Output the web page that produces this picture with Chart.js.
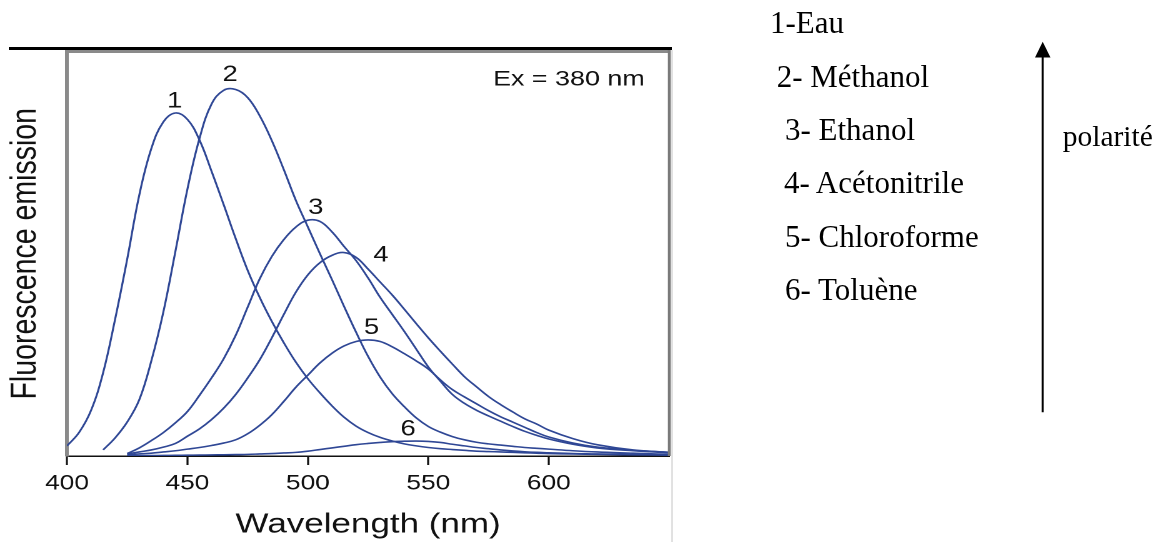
<!DOCTYPE html>
<html><head><meta charset="utf-8">
<script src="https://cdn.jsdelivr.net/npm/chart.js@4.4.1/dist/chart.umd.min.js"></script>
<style>
html,body{margin:0;padding:0;background:#fff;width:1162px;height:542px;overflow:hidden;}
#wrap{position:absolute;left:0;top:0;width:540px;height:542px;transform:scaleX(1.25);transform-origin:0 0;}
#overlay{position:absolute;left:0;top:0;pointer-events:none;}
</style></head><body>
<div id="wrap"><canvas id="c"></canvas></div>
<svg id="overlay" width="1162" height="542" xmlns="http://www.w3.org/2000/svg"></svg>
<script>
// ---- data ----
const wavelengths = [400,405,410,415,420,425,430,435,440,445,450,455,460,465,470,475,480,485,490,495,500,505,510,515,520,525,530,535,540,545,550,555,560,565,570,575,580,585,590,595,600,610,620,635,650];
const eau = [2.5,5.8,11.3,20.6,33.9,48.7,64.5,76.0,82.6,84.8,83.2,78.1,70.4,62.2,53.8,45.9,39.2,33.3,28.0,23.2,19.1,15.6,12.4,9.6,7.4,5.8,4.6,3.7,3.0,2.5,2.1,1.8,1.6,1.4,1.2,1.1,1.0,0.9,0.8,0.7,0.6,0.5,0.4,0.3,0.2];
const methanol = [null,null,null,1.5,4.5,8.4,13.9,23.5,35.6,50.6,66.0,78.5,87.0,90.4,90.6,88.6,84.1,78.0,70.8,63.2,56.6,50.0,43.6,37.0,30.6,24.6,19.5,15.4,12.2,9.4,7.3,5.9,4.8,4.0,3.4,3.0,2.7,2.4,2.1,1.9,1.7,1.3,1.0,0.7,0.4];
const ethanol = [null,null,null,null,null,0.6,2.0,3.8,5.8,8.2,11.0,15.0,19.3,24.0,29.8,36.8,43.8,49.3,53.5,56.6,58.3,58.0,55.4,51.8,48.3,44.0,39.2,35.0,30.8,26.4,22.0,18.5,15.2,13.0,11.3,9.9,8.6,7.3,6.1,5.1,4.2,2.9,2.0,1.3,0.8];
const acetonitrile = [null,null,null,null,null,0.5,1.0,1.5,2.2,3.1,4.9,6.7,9.0,11.8,15.2,19.3,23.8,29.2,35.0,40.5,44.8,47.8,49.6,50.3,49.1,46.2,43.0,39.8,36.3,32.7,29.2,25.9,22.7,19.6,17.1,14.7,12.7,10.9,9.2,7.9,6.4,4.3,2.8,1.5,0.9];
const chloroforme = [null,null,null,null,null,0.3,0.5,0.7,1.0,1.3,1.7,2.1,2.6,3.2,4.0,5.5,7.6,10.2,13.5,17.0,20.0,23.0,25.4,27.2,28.3,28.7,28.3,27.0,25.3,23.5,21.5,18.8,16.4,14.6,12.9,11.2,9.7,8.4,7.1,5.8,4.7,3.2,2.2,1.4,0.9];
const toluene = [null,null,null,null,null,0.05,0.08,0.1,0.13,0.16,0.2,0.23,0.27,0.3,0.35,0.4,0.5,0.6,0.75,0.9,1.2,1.6,2.0,2.4,2.8,3.1,3.35,3.55,3.65,3.7,3.6,3.35,2.9,2.5,2.1,1.8,1.5,1.25,1.05,0.9,0.8,0.6,0.5,0.4,0.3];
const series = [eau, methanol, ethanol, acetonitrile, chloroforme, toluene];
const solvents = ['1-Eau','2- Méthanol','3- Ethanol','4- Acétonitrile','5- Chloroforme','6- Toluène'];
const xTicks = [400,450,500,550,600];
const curveLabels = ['1','2','3','4','5','6'];
const labelNm = [444.7,467.7,503.3,530.3,526.4,541.6];
const labelVal = [87.6,94.2,61.3,49.6,31.7,6.6];
const exText = 'Ex = 380 nm';
const exNm = 639.8, exVal = 93;
const xTitle = 'Wavelength (nm)';
const yTitle = 'Fluorescence emission';
const polarityLabel = 'polarité';

// ---- chart ----
Chart.defaults.font.family = "'Liberation Sans', Arial, Helvetica, sans-serif";
Chart.defaults.color = '#111';

const framePlugin = {
  id: 'frame',
  afterDraw(chart) {
    const {ctx, chartArea: a} = chart;
    ctx.save();
    ctx.strokeStyle = '#8a8a8a'; ctx.lineWidth = 3;
    ctx.beginPath(); ctx.moveTo(a.left - 1.5, a.top); ctx.lineTo(a.right + 1, a.top); ctx.stroke();
    ctx.strokeStyle = '#7a7a7a'; ctx.lineWidth = 2.2;
    ctx.beginPath(); ctx.moveTo(a.right, a.top - 1.5); ctx.lineTo(a.right, a.bottom); ctx.stroke();
    ctx.restore();
  }
};
const labelPlugin = {
  id: 'curveLabels',
  afterDatasetsDraw(chart) {
    const {ctx, scales: {x, y}} = chart;
    ctx.save();
    ctx.fillStyle = '#111';
    ctx.textAlign = 'center'; ctx.textBaseline = 'middle';
    ctx.font = "22px 'Liberation Sans', Arial, sans-serif";
    curveLabels.forEach((t, i) => ctx.fillText(t, x.getPixelForValue(labelNm[i]), y.getPixelForValue(labelVal[i])));
    ctx.textAlign = 'right';
    ctx.font = "21.5px 'Liberation Sans', Arial, sans-serif";
    ctx.fillText(exText, x.getPixelForValue(exNm), y.getPixelForValue(exVal));
    ctx.restore();
  }
};

new Chart(document.getElementById('c'), {
  type: 'line',
  data: {
    datasets: series.map((s, i) => ({
      label: solvents[i],
      data: wavelengths.map((w, j) => ({x: w, y: s[j]})).filter(p => p.y !== null),
      borderColor: '#2f4795',
      borderWidth: 1.6,
      pointRadius: 0,
      fill: false,
      tension: 0.4
    }))
  },
  options: {
    responsive: true,
    maintainAspectRatio: false,
    animation: false,
    devicePixelRatio: 2,
    layout: {padding: {left: 0, top: 51.5, right: 4.6, bottom: 0.2}},
    plugins: {legend: {display: false}, tooltip: {enabled: false}},
    scales: {
      x: {
        type: 'linear', min: 400, max: 650,
        afterBuildTicks: s => { s.ticks = xTicks.map(v => ({value: v})); },
        grid: {display: true, drawOnChartArea: false, drawTicks: true, tickLength: 9, tickColor: '#111', tickWidth: 1.6},
        border: {display: true, color: '#111', width: 1.5},
        ticks: {padding: 6, color: '#111', font: {size: 21}, maxRotation: 0, autoSkip: false},
        title: {display: true, text: xTitle, color: '#111', font: {size: 28}, padding: {top: 6, bottom: 0}}
      },
      y: {
        min: 0, max: 100,
        grid: {display: false, drawTicks: false},
        border: {display: true, color: '#8a8a8a', width: 3},
        ticks: {display: false},
        title: {display: true, text: yTitle, color: '#111', font: {size: 28.5}, padding: {top: 3.6, bottom: 15.8}}
      }
    }
  },
  plugins: [framePlugin, labelPlugin]
});

// ---- right side annotations ----
const svgNS = 'http://www.w3.org/2000/svg';
const svg = document.getElementById('overlay');
function add(tag, attrs, text) {
  const el = document.createElementNS(svgNS, tag);
  for (const k in attrs) el.setAttribute(k, attrs[k]);
  if (text) el.textContent = text;
  svg.appendChild(el);
  return el;
}
add('line', {x1: 9, y1: 48.5, x2: 672, y2: 48.5, stroke: '#000', 'stroke-width': 3});
add('line', {x1: 672, y1: 50, x2: 672, y2: 542, stroke: '#c4c4c4', 'stroke-width': 1});
const serif = "'Liberation Serif','Times New Roman',Times,serif";
const listX = [770, 776.7, 785, 784, 785, 785];
const listY = [33.3, 87.3, 140, 193.3, 246.7, 300];
solvents.forEach((s, i) => add('text', {x: listX[i], y: listY[i], 'font-family': serif, 'font-size': 31, fill: '#000'}, s));
add('text', {x: 1062.7, y: 145.7, 'font-family': serif, 'font-size': 29.5, fill: '#000'}, polarityLabel);
add('line', {x1: 1042.7, y1: 412.3, x2: 1042.7, y2: 56, stroke: '#000', 'stroke-width': 2});
add('polygon', {points: '1042.7,41.7 1035,57.5 1050.5,57.5', fill: '#000'});
</script>
</body></html>
